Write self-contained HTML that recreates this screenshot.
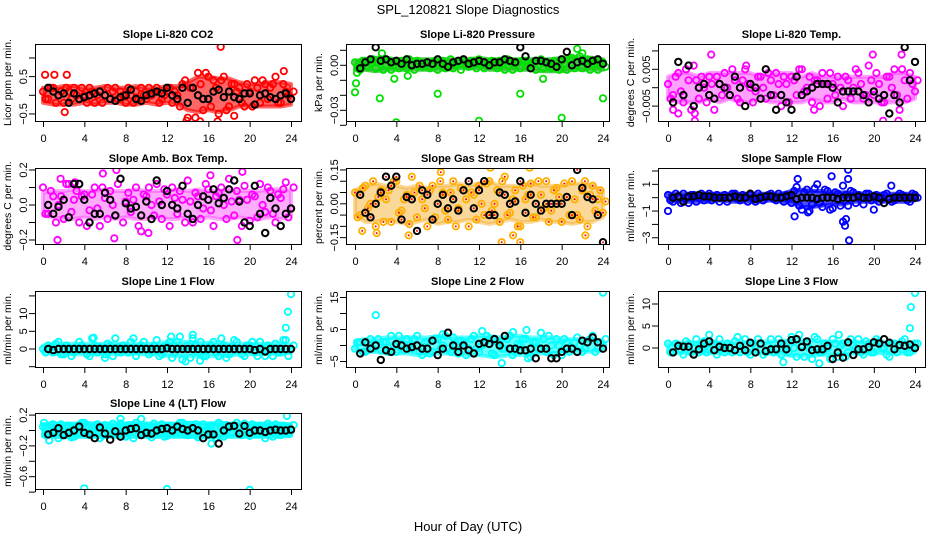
<!DOCTYPE html>
<html><head><meta charset="utf-8"><style>
html,body{margin:0;padding:0;background:#fff;}
svg{display:block;font-family:"Liberation Sans",sans-serif;}
</style></head><body>
<svg id="chart" width="936" height="540" viewBox="0 0 936 540" xmlns="http://www.w3.org/2000/svg">
<rect width="936" height="540" fill="#fff"/>
<text x="468" y="14" text-anchor="middle" font-size="13">SPL_120821  Slope Diagnostics</text>
<text x="468" y="531" text-anchor="middle" font-size="13">Hour of Day (UTC)</text>
</svg>
<script>
const xTickLabels=[0,4,8,12,16,20,24];
// Panel 1 CO2
const p1A=[0.1,-0.1,0.2,0.0,-0.2,0.1,0.2,-0.1,0.0,0.2,-0.2,0.1,0.0,-0.1,0.2,0.1,-0.2,0.0,0.1,0.2,-0.1,0.0,0.2,-0.1,0.1,-0.2,0.0,0.3,-0.6,0.2,0.6,-0.4,0.5,0.4,-0.5,0.5,-0.3,0.3,0.2,-0.3,0.1,0.4,-0.2,0.3,0.2,0.5,-0.2,0.1,-0.1];
const p1B=[-0.1,0.2,-0.2,0.1,0.2,-0.1,0.0,0.2,-0.2,0.1,0.0,-0.2,0.2,0.1,-0.1,0.0,0.2,-0.2,-0.1,0.0,0.2,0.1,-0.2,0.0,0.2,0.1,-0.3,0.4,0.2,-0.6,0.3,0.6,-0.3,0.2,0.4,-0.4,0.3,0.1,-0.2,0.3,-0.3,0.2,0.4,-0.1,0.3,-0.2,0.3,0.0,0.1];
const p1K=[0.2,0.1,0.0,0.05,-0.2,0.05,-0.1,-0.05,0.0,0.05,0.1,0.0,-0.1,-0.15,-0.05,0.0,0.15,-0.1,-0.15,0.0,0.05,0.1,0.05,0.2,0.0,-0.1,0.2,-0.2,0.2,0.0,-0.1,-0.1,0.1,0.15,-0.05,0.1,-0.05,-0.1,0.05,0.05,-0.25,0.0,0.05,-0.05,-0.1,0.0,0.05,-0.1];
const p1OX=[17.2,2.1,13.9,15.2,16.9,18.5,0.2,1.1,2.3,23.3];
const p1OY=[1.3,-0.45,-0.68,-0.7,-0.7,-0.55,0.55,0.55,0.55,0.65];
const p1Lo=[-0.2,-0.25,-0.25,-0.25,-0.2,-0.25,-0.2,-0.2,-0.25,-0.25,-0.2,-0.25,-0.2,-0.25,-0.4,-0.45,-0.4,-0.45,-0.4,-0.3,-0.3,-0.3,-0.3,-0.3,-0.25];
const p1Hi=[0.2,0.2,0.25,0.25,0.2,0.2,0.25,0.2,0.2,0.25,0.2,0.2,0.25,0.25,0.35,0.5,0.5,0.45,0.45,0.35,0.3,0.3,0.35,0.35,0.3];
// Panel 2 Pressure
const p2A=[0.002,-0.003,0.003,0.001,-0.002,0.004,0.0,-0.003,0.002,0.003,-0.002,0.001,0.003,-0.001,0.002,0.0,-0.003,0.003,0.001,-0.002,0.002,0.003,-0.001,0.001,0.004,-0.002,0.002,0.0,0.003,-0.003,0.002,0.001,-0.002,0.003,0.0,-0.003,0.004,0.001,-0.002,0.002,0.003,-0.003,0.005,0.002,-0.002,0.004,0.001,-0.003,0.002];
const p2B=[-0.002,0.003,-0.001,0.004,0.002,-0.003,0.003,0.002,-0.002,0.0,0.004,-0.003,0.002,0.001,-0.002,0.003,0.001,-0.002,0.004,0.0,-0.003,0.001,0.003,-0.002,0.002,0.0,0.003,-0.002,0.001,0.004,-0.003,0.002,0.003,-0.001,0.002,0.003,-0.002,0.0,0.003,-0.003,0.001,0.004,-0.002,0.006,0.002,-0.003,0.003,0.001,-0.001];
const p2K=[-0.002,0.002,0.004,0.012,0.003,0.004,0.002,0.003,0.001,0.004,0.0,0.001,0.001,0.002,0.001,0.004,0.001,-0.001,0.002,0.003,0.004,0.001,0.002,0.003,0.002,0.0,0.002,0.002,0.004,0.003,0.002,0.012,0.006,-0.002,0.003,0.003,0.002,0.001,-0.001,0.004,0.009,0.0,0.002,0.003,0.001,0.003,0.004,0.001];
const p2OX=[0,0.1,2.4,4,8,12,16,20,24,2.6,21.5,22,0.2,3.8,5.1,18.2];
const p2OY=[-0.018,-0.012,-0.022,-0.038,-0.019,-0.037,-0.019,-0.035,-0.022,0.008,0.011,0.008,-0.005,-0.009,-0.007,-0.009];
const p2Lo=[-0.003,-0.003,-0.004,-0.003,-0.003,-0.003,-0.003,-0.003,-0.003,-0.003,-0.002,-0.002,-0.002,-0.003,-0.003,-0.003,-0.003,-0.003,-0.004,-0.004,-0.004,-0.003,-0.003,-0.003,-0.003];
const p2Hi=[0.003,0.004,0.005,0.005,0.004,0.004,0.004,0.004,0.004,0.004,0.004,0.004,0.005,0.004,0.004,0.004,0.004,0.004,0.004,0.004,0.005,0.006,0.005,0.005,0.004];
// Panel 3 Li-820 Temp
const p3A=[0.001,-0.002,0.004,-0.004,0.002,0.006,-0.003,0.0,0.003,-0.006,0.001,0.004,-0.002,0.002,-0.004,0.005,0.0,-0.001,0.003,-0.003,0.002,0.004,-0.005,0.001,0.003,-0.002,0.005,0.0,-0.004,0.002,0.004,-0.003,0.001,0.003,-0.005,0.002,0.0,0.004,-0.003,0.006,-0.002,0.001,-0.004,0.003,0.005,-0.006,0.002,0.004,-0.001];
const p3B=[-0.003,0.003,-0.001,0.005,-0.006,0.002,0.003,-0.004,0.001,0.003,-0.002,0.0,0.005,-0.003,0.002,0.001,-0.004,0.003,0.0,0.004,-0.002,0.001,0.003,-0.004,0.002,0.005,-0.001,0.003,0.002,-0.005,0.001,0.004,-0.002,0.0,0.003,-0.003,0.005,0.001,-0.002,0.002,0.004,-0.004,0.003,0.0,-0.002,0.005,-0.003,0.001,0.002];
const p3K=[-0.004,0.007,-0.002,0.006,-0.005,0.0,0.001,-0.002,-0.003,0.001,0.0,-0.002,0.003,0.0,-0.005,0.001,0.0,-0.003,0.005,-0.002,-0.006,-0.002,-0.004,-0.006,0.003,-0.002,-0.001,0.0,0.001,0.001,0.001,0.0,-0.004,-0.001,-0.001,-0.001,-0.001,-0.002,-0.004,-0.001,-0.003,-0.002,-0.007,-0.002,-0.004,0.011,0.002,0.007];
const p3OX=[4.2,2.6,19.9,20.9,22.4,22.7,0.5,1.0,2.6,7.6,14.2];
const p3OY=[0.009,-0.009,0.009,-0.009,-0.009,0.009,-0.006,-0.007,-0.007,0.006,-0.006];
const p3Lo=[-0.003,-0.004,-0.004,-0.004,-0.003,-0.004,-0.003,-0.004,-0.004,-0.003,-0.004,-0.004,-0.004,-0.004,-0.003,-0.004,-0.004,-0.003,-0.004,-0.004,-0.004,-0.004,-0.004,-0.004,-0.003];
const p3Hi=[0.003,0.004,0.004,0.003,0.004,0.004,0.004,0.004,0.004,0.003,0.004,0.004,0.004,0.003,0.004,0.003,0.003,0.003,0.003,0.003,0.003,0.003,0.004,0.004,0.003];
// Panel 4 Amb Box Temp
const p4A=[0.1,-0.05,0.05,0.0,-0.08,0.12,0.03,-0.1,0.06,-0.03,0.1,-0.12,0.04,0.08,-0.06,0.15,0.02,-0.04,0.1,-0.15,0.05,0.0,0.12,-0.08,0.06,0.1,-0.05,0.03,0.14,-0.1,0.05,-0.02,0.09,-0.12,0.07,0.0,0.15,-0.06,0.03,0.11,-0.09,0.05,0.12,-0.04,0.08,-0.1,0.04,0.13,-0.02];
const p4B=[-0.05,0.08,-0.1,0.05,0.12,-0.04,0.08,0.05,-0.12,0.06,-0.02,0.1,-0.08,0.0,0.12,-0.1,0.07,0.03,-0.12,0.06,0.1,-0.06,0.02,0.09,-0.12,0.04,0.08,-0.1,0.02,0.07,-0.08,0.12,-0.03,0.05,0.1,-0.08,0.02,0.08,-0.12,0.03,0.06,-0.07,0.0,0.1,-0.05,0.06,0.09,-0.07,0.1];
const p4K=[0.0,-0.05,-0.01,0.03,-0.07,0.12,0.12,0.03,-0.1,-0.05,-0.05,0.07,0.03,-0.06,0.15,0.01,-0.02,-0.01,-0.06,0.02,-0.08,0.14,0.0,0.08,0.0,-0.02,0.11,-0.05,-0.08,0.0,0.05,0.03,0.09,0.01,0.04,0.09,0.14,0.02,-0.1,-0.12,0.11,-0.05,-0.16,0.04,-0.02,-0.12,-0.05,-0.02];
const p4OX=[1.4,6.9,7.1,18.8,19.3,5.8,3.1,1.7,16.2,10.2];
const p4OY=[-0.2,-0.19,0.2,-0.2,0.19,0.18,0.13,0.15,0.17,-0.16];
const p4Lo=[-0.06,-0.07,-0.08,-0.08,-0.07,-0.08,-0.07,-0.08,-0.07,-0.08,-0.08,-0.07,-0.08,-0.08,-0.07,-0.08,-0.07,-0.08,-0.08,-0.07,-0.08,-0.08,-0.07,-0.08,-0.06];
const p4Hi=[0.07,0.08,0.08,0.09,0.08,0.08,0.09,0.08,0.08,0.09,0.08,0.08,0.08,0.09,0.08,0.09,0.08,0.08,0.09,0.08,0.08,0.08,0.09,0.09,0.08];
// Panel 5 Gas Stream RH
const p5A=[0.05,-0.05,0.08,0.0,-0.1,0.06,0.02,-0.08,0.1,-0.03,0.04,0.12,-0.06,0.02,-0.1,0.08,0.0,0.05,-0.07,0.1,-0.02,0.06,-0.1,0.04,0.08,-0.05,0.1,0.0,-0.08,0.12,-0.04,0.06,-0.1,0.02,0.09,-0.06,0.04,0.1,-0.03,0.07,-0.08,0.03,0.1,-0.05,0.06,-0.1,0.08,0.02,-0.04];
const p5B=[-0.06,0.07,-0.02,0.1,0.03,-0.08,0.06,0.1,-0.04,0.02,-0.09,0.05,0.08,-0.02,0.06,-0.06,0.1,-0.03,0.05,-0.1,0.07,0.02,0.05,-0.07,0.0,0.09,-0.03,0.06,0.1,-0.05,0.02,-0.1,0.08,0.04,-0.06,0.1,-0.02,-0.08,0.06,0.03,0.09,-0.05,0.02,-0.07,0.1,0.04,-0.03,0.06,0.01];
const p5K=[0.04,-0.04,-0.06,0.0,0.05,0.12,0.08,0.12,-0.07,0.03,0.02,-0.12,0.06,0.04,-0.07,0.0,0.04,-0.02,0.02,-0.03,0.06,0.1,-0.02,0.06,0.1,-0.05,-0.05,0.05,0.04,0.0,0.01,0.1,-0.04,0.04,0.0,-0.03,0.0,0.0,0.0,0.0,0.03,-0.05,0.15,0.07,0.03,0.02,-0.05,-0.17];
const p5OX=[10.9,23.6,14.2,16,0.7,2.1,5.2,15.3,22.3,8.3,13.1,16.9];
const p5OY=[0.18,0.19,-0.17,-0.17,-0.12,-0.13,-0.14,-0.14,-0.14,0.14,0.16,0.16];
const p5Lo=[-0.05,-0.08,-0.08,-0.07,-0.08,-0.09,-0.08,-0.07,-0.09,-0.08,-0.08,-0.07,-0.08,-0.09,-0.08,-0.07,-0.08,-0.08,-0.07,-0.08,-0.08,-0.09,-0.08,-0.08,-0.06];
const p5Hi=[0.06,0.08,0.09,0.08,0.08,0.07,0.08,0.07,0.08,0.08,0.09,0.08,0.09,0.1,0.08,0.08,0.08,0.09,0.08,0.08,0.08,0.09,0.09,0.08,0.06];
// Panel 6 Sample Flow
const p6A=[0.2,-0.3,0.1,0.3,-0.4,0.2,0.0,-0.2,0.3,0.1,-0.3,0.2,0.0,0.3,-0.2,0.1,0.2,-0.3,0.1,0.0,0.3,-0.2,0.1,0.2,-0.4,0.8,-0.9,0.6,-0.5,1.0,-0.7,0.5,-0.8,0.3,0.9,-0.6,0.4,0.2,-0.5,0.3,0.1,-0.3,0.2,0.0,-0.2,0.3,0.1,-0.3,0.2];
const p6B=[-0.2,0.3,-0.4,0.0,0.2,-0.3,0.3,0.1,-0.2,0.2,0.0,-0.3,0.3,-0.1,0.2,-0.3,0.0,0.3,-0.2,0.2,-0.1,0.3,-0.3,0.1,0.5,-0.6,0.4,-1.0,0.7,-0.4,0.6,-0.9,0.4,-0.6,0.2,0.5,-0.4,0.0,0.3,-0.2,0.2,-0.1,0.3,-0.3,0.1,0.2,-0.2,0.3,0.0];
const p6K=[0.0,0.1,-0.3,0.1,0.1,0.2,0.1,0.1,0.0,0.0,0.0,0.0,0.1,0.0,0.0,0.3,-0.1,0.0,0.1,0.1,0.0,0.0,0.1,0.2,-0.1,0.0,0.0,0.0,-0.1,0.0,0.0,0.0,-0.1,0.0,0.0,0.0,0.1,0.0,0.0,0.1,0.0,-0.4,-0.1,0.0,0.0,0.0,0.0,0.0];
const p6OX=[0,15.9,17.5,17.5,17.6,17,17.3,12.6,20,21.7,12.3,13.6,17.2];
const p6OY=[-1,1.6,2.1,1.4,-3.2,-1.8,-1.6,1.4,-0.9,0.9,-1.4,-1.1,-2.1];
const p6Lo=[-0.2,-0.3,-0.3,-0.3,-0.3,-0.2,-0.3,-0.3,-0.3,-0.3,-0.2,-0.3,-0.4,-0.7,-0.7,-0.6,-0.5,-0.5,-0.3,-0.3,-0.3,-0.3,-0.3,-0.3,-0.2];
const p6Hi=[0.3,0.3,0.3,0.3,0.3,0.3,0.3,0.3,0.3,0.3,0.3,0.3,0.5,0.6,0.5,0.5,0.4,0.4,0.4,0.3,0.3,0.3,0.3,0.3,0.3];
// Panel 7 Line 1 Flow
const p7A=[0,1,-1,2,-1.5,0.5,-1,2,0,-2,1,0.5,-1.5,1,3,-1,0.5,2,-2,1,0,-1,2.5,-1.5,1,-2.5,2,-3,1,3,-1,-2,0.5,2,-2,1,-1.5,2.5,0,-2,1,-1,2,-2,0.5,1.5,-1,2.5,0];
const p7B=[-1,0.5,1.5,-1.5,1,-2,0.5,1,-1.5,3,-1,0,1.5,-2,0.5,1,-1,3,-0.5,2,-1.5,1,-2,0.5,2,-1,3.5,0,-2.5,1,2,-2,1,-1,3,-2.5,0.5,2,-1.5,1,2,-2,0,1,-2,-1,2.5,-2,1];
const p7K=[0,-0.3,0,0,0,0,0,0,0,0,0,0,0,0,0,0,0,0,0,0,0,0,0,0.2,0,0,0,0,0,0,0,0,0,0,0,0,0,0,0,0,-0.3,0,-0.7,0,0,0,0,0];
const p7OX=[23.5,23.7,24,14.5,13.8,15.2,6,12.4,4.9];
const p7OY=[6,10.5,15.5,4,-3.5,-3.3,-2.5,3.5,3.2];
const p7Lo=[-1,-1.5,-1.5,-1.5,-1.5,-1.5,-1.5,-1.5,-1.5,-1.5,-1.5,-1.5,-2,-2,-2,-2,-2,-2,-2,-1.5,-1.5,-1.5,-1.5,-1.5,-1];
const p7Hi=[1,1.5,1.5,1.5,1.5,1.5,1.5,1.5,1.5,1.5,1.5,1.5,2,2,2,1.8,1.8,1.8,1.5,1.5,1.5,1.5,1.5,1.5,1];
// Panel 8 Line 2 Flow
const p8A=[-1,1,-2,2,0,-1.5,1,3,-2,0.5,2,-1,3,-3,1,-2,2,0,-1,2.5,-2.5,1,-1,3,-2,0.5,2,-3,1,-1,3,-2,0,2,-3.5,1,4,-2,0,2,-3,1,-1,2.5,-2,1,3,-1,0];
const p8B=[1,-2,0.5,-1,2,1,-2,0,3,-1.5,0,2,-2,1,-2.5,2,-1,3,-2,0,1.5,-3,2,-1,0,3,-2.5,1,-1,2,-3,0.5,2,-4,1,-1,2,3,-3,0,2,-2,1,0,-1,2,-2,1,2];
const p8K=[-2.5,1,-1,0,-4.5,-1.5,-2,0.5,0,-1,-0.5,0,-1,-1,1.5,-3,-1,4,0,-2,0,-1.5,-2.5,0.5,1,0.5,2,0,3,-1,-1,-1.5,-1.5,-1,-4,-1,-1,-4,-4,-2,-1,-1,-2,1.5,1,2.5,1,-1];
const p8OX=[2,24,12.3,14.2,8.5,16.6,15.3];
const p8OY=[9.5,16.5,4.5,-5.5,3.5,4.8,4.2];
const p8Lo=[-1.5,-2,-2,-2.5,-2.5,-2.5,-3,-3,-2.5,-2.5,-3,-3,-3,-3.5,-3.5,-3,-3,-3,-2.5,-2.5,-2,-2,-2,-2,-1.5];
const p8Hi=[1.5,2,2,2.5,2.5,2.5,2.5,2.5,3,2.5,2.5,2.5,3,3,2.5,3,3,2.5,2.5,2.5,2,2,2,2,1.5];
// Panel 9 Line 3 Flow
const p9A=[1,-1,0.5,-1.5,1,0,-1,1.5,-0.5,1,2,-1,0,1.5,-1,2,-1.5,0.5,1,-1,2,0,-1.5,1,2.5,-2,0.5,1,-2.5,2,-1,0,2,-2,1,-1,0.5,2,-1.5,1,-1,1.5,0,-2,1,0.5,2,-1,1];
const p9B=[-1,1,-0.5,1.5,-1,2,0.5,-1,1,-1.5,0,1,-1,2.5,0,-1,1,2,-1.5,0.5,-1,2,0.5,-1,0,3,-2,0,2.5,-1,1,-2.5,1,0.5,-2,2,0,-1,1.5,-1,2,0,-1.5,1,-1,1.5,-1,0,1];
const p9K=[-1,0.5,0.3,0.3,-1.5,-0.3,1,1.5,-0.5,0.3,0,0,-0.5,0.5,-0.5,1.2,-1,1,-0.7,-0.3,-0.3,1,-0.3,1.8,2,0.2,1.5,-0.5,-0.3,-0.3,0.5,-2.5,-1,-2.2,1.3,-1.6,-0.3,-0.3,0.2,1.3,1,2,1.2,-0.3,0.7,0.5,0.8,0];
const p9OX=[23.5,23.6,24,14.7,11.2,4,16.6];
const p9OY=[4.5,9.3,12.5,-3.5,-3.2,3,3];
const p9Lo=[-1,-1.2,-1.2,-1.2,-1.2,-1.2,-1.2,-1.2,-1.2,-1.2,-1.3,-1.5,-1.8,-1.8,-1.8,-1.5,-1.5,-1.5,-1.3,-1.2,-1.2,-1.2,-1.2,-1.2,-1];
const p9Hi=[1,1.2,1.2,1.3,1.3,1.3,1.3,1.3,1.5,1.5,1.5,1.5,1.8,1.8,1.8,1.5,1.5,1.5,1.5,1.3,1.3,1.3,1.3,1.2,1];
// Panel 10 Line 4 (LT) Flow
const p10A=[0.05,-0.05,0.08,-0.1,0.0,0.06,-0.08,0.03,0.1,-0.06,0.02,-0.1,0.07,0.0,-0.05,0.09,-0.08,0.04,0.1,-0.03,0.06,-0.09,0.02,0.08,-0.07,0.05,0.0,0.1,-0.06,0.04,-0.09,0.08,0.02,-0.05,0.1,-0.08,0.03,0.07,-0.04,0.09,-0.07,0.01,0.06,-0.1,0.05,0.08,-0.06,0.04,0.0];
const p10B=[-0.06,0.07,-0.02,0.08,0.04,-0.09,0.05,0.1,-0.04,0.02,0.08,-0.07,0.0,0.09,-0.05,0.03,0.07,-0.1,0.05,0.01,-0.06,0.09,0.04,-0.08,0.06,-0.02,0.1,-0.05,0.03,0.08,-0.07,0.0,0.06,-0.09,0.04,0.07,-0.03,0.1,-0.06,0.02,0.08,-0.05,0.04,0.09,-0.08,0.01,0.06,-0.04,0.07];
const p10K=[-0.05,-0.03,0.03,-0.06,-0.03,0.0,0.05,-0.03,-0.05,-0.1,0.04,-0.04,-0.12,-0.01,-0.08,0.0,0.02,0.03,-0.06,-0.03,-0.04,0.0,0.02,0.03,0.0,0.05,0.02,0.0,0.03,0.0,-0.1,-0.05,-0.05,-0.17,0.0,0.05,0.06,-0.04,0.06,-0.03,0.0,0.0,-0.02,0.0,0.01,0.0,0.0,0.01];
const p10OX=[0.1,4,12,20,23.6,16.3,0.6,7.5,9.5];
const p10OY=[0.1,-0.75,-0.76,-0.77,0.19,-0.17,-0.13,0.15,0.15];
const p10Lo=[-0.07,-0.08,-0.09,-0.08,-0.08,-0.08,-0.08,-0.08,-0.08,-0.08,-0.08,-0.08,-0.08,-0.08,-0.08,-0.09,-0.09,-0.08,-0.08,-0.08,-0.08,-0.08,-0.08,-0.08,-0.07];
const p10Hi=[0.08,0.09,0.09,0.09,0.1,0.09,0.09,0.09,0.09,0.1,0.09,0.09,0.09,0.09,0.1,0.1,0.09,0.1,0.09,0.09,0.09,0.09,0.09,0.09,0.08];

const panels=[
 {key:'co2',title:'Slope Li-820 CO2',ylab:'Licor ppm per min.',col:'#ff0000',band:'#ff0000',op:0.6,A:p1A,B:p1B,K:p1K,OX:p1OX,OY:p1OY,lo:p1Lo,hi:p1Hi,
  box:[35,44,301,121],xa:[43,291],y0:95.3,k:37.3,ticks:[-0.5,0,0.5,1],labels:{'-0.5':'−0.5','0.5':'0.5'}},
 {key:'pressure',title:'Slope Li-820 Pressure',ylab:'kPa per min.',col:'#00e000',band:'#22c022',op:0.8,A:p2A,B:p2B,K:p2K,OX:p2OX,OY:p2OY,lo:p2Lo,hi:p2Hi,
  box:[346,44,609,121],xa:[355,603],y0:65.3,k:1500,ticks:[-0.04,-0.03,-0.02,-0.01,0,0.01],labels:{'-0.03':'−0.03','0':'0.00'}},
 {key:'licor-temp',title:'Slope Li-820 Temp.',ylab:'degrees C per min.',col:'#ff00ff',band:'#ff30ff',op:0.45,A:p3A,B:p3B,K:p3K,OX:p3OX,OY:p3OY,lo:p3Lo,hi:p3Hi,
  box:[658,44,925,121],xa:[668,915],y0:87.7,k:3680,ticks:[-0.005,0,0.005,0.01],labels:{'-0.005':'−0.005','0.005':'0.005'}},
 {key:'amb-box-temp',title:'Slope Amb. Box Temp.',ylab:'degrees C per min.',col:'#ff00ff',band:'#ff30ff',op:0.4,A:p4A,B:p4B,K:p4K,OX:p4OX,OY:p4OY,lo:p4Lo,hi:p4Hi,
  box:[35,168,301,244],xa:[43,291],y0:205,k:175,ticks:[-0.2,-0.1,0,0.1,0.2],labels:{'-0.2':'−0.2','0':'0.0','0.2':'0.2'}},
 {key:'gas-stream-rh',title:'Slope Gas Stream RH',ylab:'percent per min.',col:'#ffb000',dot:'#ff0000',band:'#f2a820',op:0.45,A:p5A,B:p5B,K:p5K,OX:p5OX,OY:p5OY,lo:p5Lo,hi:p5Hi,
  box:[346,168,609,244],xa:[355,603],y0:203.8,k:225.7,ticks:[-0.15,-0.1,-0.05,0,0.05,0.1,0.15],labels:{'-0.15':'−0.15','0':'0.00','0.15':'0.15'}},
 {key:'sample-flow',title:'Slope Sample Flow',ylab:'ml/min per min.',col:'#0000ff',band:'#0000ff',op:0.7,A:p6A,B:p6B,K:p6K,OX:p6OX,OY:p6OY,lo:p6Lo,hi:p6Hi,
  box:[658,168,925,244],xa:[668,915],y0:197.7,k:13.35,ticks:[-3,-2,-1,0,1,2],labels:{'-3':'−3','-1':'−1','1':'1'}},
 {key:'line1-flow',title:'Slope Line 1 Flow',ylab:'ml/min per min.',col:'#00ffff',band:'#00ffff',op:0.6,A:p7A,B:p7B,K:p7K,OX:p7OX,OY:p7OY,lo:p7Lo,hi:p7Hi,
  box:[35,291,301,367],xa:[43,291],y0:349,k:3.54,ticks:[-5,0,5,10,15],labels:{'0':'0','5':'5','10':'10'}},
 {key:'line2-flow',title:'Slope Line 2 Flow',ylab:'ml/min per min.',col:'#00ffff',band:'#00ffff',op:0.6,A:p8A,B:p8B,K:p8K,OX:p8OX,OY:p8OY,lo:p8Lo,hi:p8Hi,
  box:[346,291,609,367],xa:[355,603],y0:345.5,k:3.2,ticks:[-5,0,5,10,15],labels:{'-5':'−5','5':'5','15':'15'}},
 {key:'line3-flow',title:'Slope Line 3 Flow',ylab:'ml/min per min.',col:'#00ffff',band:'#00ffff',op:0.6,A:p9A,B:p9B,K:p9K,OX:p9OX,OY:p9OY,lo:p9Lo,hi:p9Hi,
  box:[658,291,925,367],xa:[668,915],y0:348,k:4.4,ticks:[0,5,10],labels:{'0':'0','5':'5','10':'10'}},
 {key:'line4-flow',title:'Slope Line 4 (LT) Flow',ylab:'ml/min per min.',col:'#00ffff',band:'#00ffff',op:0.85,A:p10A,B:p10B,K:p10K,OX:p10OX,OY:p10OY,lo:p10Lo,hi:p10Hi,
  box:[35,413,301,489],xa:[43,291],y0:430.5,k:77,ticks:[-0.8,-0.6,-0.4,-0.2,0,0.2],labels:{'-0.6':'−0.6','-0.2':'−0.2','0.2':'0.2'}}
];

const NS='http://www.w3.org/2000/svg';
const svg=document.getElementById('chart');
function mk(tag,attrs,parent){const e=document.createElementNS(NS,tag);for(const a in attrs)e.setAttribute(a,attrs[a]);parent.appendChild(e);return e;}

panels.forEach(p=>{
  const g=mk('g',{},svg);
  
  
  const [x1,y1,x2,y2]=p.box;
  const sx=h=>p.xa[0]+(p.xa[1]-p.xa[0])*h/24;
  const sy=v=>p.y0-v*p.k;
  const clipId='clip-'+p.key;
  const cp=mk('clipPath',{id:clipId},g);
  mk('rect',{x:x1,y:y1,width:x2-x1,height:y2-y1},cp);
  const pts=mk('g',{'clip-path':'url(#'+clipId+')'},g);
  
  
  const up=p.hi.map((v,i)=>sx(i).toFixed(1)+','+sy(v).toFixed(1));
  const dn=p.lo.map((v,i)=>sx(i).toFixed(1)+','+sy(v).toFixed(1)).reverse();
  const band=mk('polygon',{points:up.concat(dn).join(' '),fill:p.band,stroke:p.band,'stroke-width':4,'stroke-linejoin':'round','fill-opacity':p.op,'stroke-opacity':p.op},pts);
  
  
  function dot(h,v,color,sw,nm){
    const c=mk('circle',{cx:sx(h).toFixed(1),cy:sy(v).toFixed(1),r:3.2,fill:'none',stroke:color,'stroke-width':sw},pts);
    
    
    if(p.dot){const d=mk('circle',{cx:sx(h).toFixed(1),cy:sy(v).toFixed(1),r:1,fill:p.dot},pts);
      
      }
  }
  p.A.forEach((v,i)=>dot(i*0.5,v,p.col,1.8,'series-point'));
  p.B.forEach((v,i)=>dot(i*0.5+0.25,v,p.col,1.8,'series-point'));
  p.OX.forEach((h,i)=>dot(h,p.OY[i],p.col,1.8,'outlier-point'));
  p.K.forEach((v,i)=>dot(0.5+i*0.5,v,'#000',2,'hourly-mean-point'));
  const box=mk('rect',{x:x1+0.5,y:y1+0.5,width:x2-x1,height:y2-y1,fill:'none',stroke:'#000','stroke-width':1},g);
  
  
  const t=mk('text',{x:(x1+x2)/2,y:y1-6,'text-anchor':'middle','font-size':11,'font-weight':'bold'},g);
  t.textContent=p.title;
  
  
  const xa=mk('g',{},g);
  
  
  mk('line',{x1:sx(0),x2:sx(24),y1:y2+0.5,y2:y2+0.5,stroke:'#000'},xa);
  xTickLabels.forEach(h=>{
    mk('line',{x1:sx(h)+0.5,x2:sx(h)+0.5,y1:y2,y2:y2+6,stroke:'#000'},xa);
    const tl=mk('text',{x:sx(h)+0.5,y:y2+21,'text-anchor':'middle','font-size':11},xa);
    tl.textContent=h;
    
    
  });
  const ya=mk('g',{},g);
  
  
  const tv=p.ticks;
  mk('line',{x1:x1+0.5,x2:x1+0.5,y1:sy(tv[0]),y2:sy(tv[tv.length-1]),stroke:'#000'},ya);
  tv.forEach(v=>{
    const y=sy(v);
    mk('line',{x1:x1-6,x2:x1,y1:y,y2:y,stroke:'#000'},ya);
    const lab=p.labels[String(v)];
    if(lab!==undefined){
      const tl=mk('text',{x:x1-8,y:y,'text-anchor':'middle','font-size':11,transform:'rotate(-90 '+(x1-8)+' '+y+')'},ya);
      tl.textContent=lab;
      
      
    }
  });
  const yc=(y1+y2)/2;
  const yt=mk('text',{x:x1-24,y:yc,'text-anchor':'middle','font-size':10.5,transform:'rotate(-90 '+(x1-24)+' '+yc+')'},g);
  yt.textContent=p.ylab;
  
  
});
</script>
</body></html>
